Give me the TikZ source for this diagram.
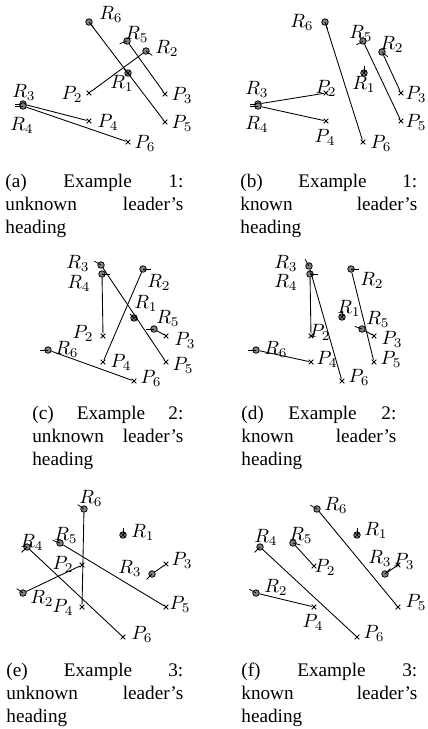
\documentclass[tikz,border=0pt]{standalone}
\usepackage[no-math]{fontspec}
\setmainfont{Liberation Serif}
\usepackage{tikz}
\usetikzlibrary{shapes.misc}
\definecolor{robotgray}{HTML}{808080}
\tikzset{
  robot/.style={circle,draw,fill=robotgray,inner sep=0pt,minimum size=3.4pt,line width=0.4pt},
  leader/.style={robot,path picture={\draw[line width=0.3pt] (path picture bounding box.north west)--(path picture bounding box.south east) (path picture bounding box.north east)--(path picture bounding box.south west);}},
  target/.style={cross out,draw,inner sep=0pt,minimum size=2pt,line width=0.4pt},
  lbl/.style={inner sep=0pt},
  traj/.style={line width=0.45pt},
  hdg/.style={line width=0.4pt},
  capt/.style={anchor=north west,inner sep=0pt,align=left,font=\normalsize}
}

\begin{document}
\begin{tikzpicture}[x=0.52pt,y=-0.52pt]
\useasboundingbox (0,0) rectangle (428,729);
% (a) example 1, unknown heading
\node[robot] (aR6) at (89,22) {}; \draw[hdg] (aR6.center)--++(-50:4pt); \node[lbl] (aR6l) at (111,14) {$R_6$};
\node[robot] (aR5) at (127,41) {}; \draw[hdg] (aR5.center)--++(200:4pt); \node[lbl] (aR5l) at (137,34) {$R_5$};
\node[robot] (aR2) at (146,51) {}; \draw[hdg] (aR2.center)--++(-35:4pt); \node[lbl] (aR2l) at (167,48) {$R_2$};
\node[leader] (aR1) at (128,73) {}; \draw[hdg] (aR1.center)--++(135:3pt); \node[lbl] (aR1l) at (122,83) {$R_1$};
\node[robot] (aR3) at (23,104) {}; \draw[hdg] (aR3.center)--++(180:4pt); \node[lbl] (aR3l) at (24,92) {$R_3$};
\node[robot] (aR4) at (23,106) {}; \draw[hdg] (aR4.center)--++(180:4pt); \node[lbl] (aR4l) at (22,125) {$R_4$};
\node[target] (aP2) at (89,93) {}; \node[lbl] (aP2l) at (72,94) {$P_2$};
\node[target] (aP3) at (165,94) {}; \node[lbl] (aP3l) at (182,95) {$P_3$};
\node[target] (aP4) at (89,121) {}; \node[lbl] (aP4l) at (108,122) {$P_4$};
\node[target] (aP5) at (165,122) {}; \node[lbl] (aP5l) at (182,123) {$P_5$};
\node[target] (aP6) at (128,142) {}; \node[lbl] (aP6l) at (145,143) {$P_6$};
\draw[traj] (aR6)--(aP5); \draw[traj] (aR5)--(aP3); \draw[traj] (aR2)--(aP2);
\draw[traj] (aR3)--(aP4); \draw[traj] (aR4)--(aP6);
\node[capt,text width=92.6pt] (capa) at (5,173.5) {(a)\hfill Example\hfill 1:\\unknown\hfill leader's\\heading};
% (b) example 1, known heading
\node[robot] (bR6) at (325,22) {}; \draw[hdg] (bR6.center)--++(-70:4pt); \node[lbl] (bR6l) at (302,22) {$R_6$};
\node[robot] (bR5) at (363,41) {}; \draw[hdg] (bR5.center)--++(210:4pt); \node[lbl] (bR5l) at (361,33) {$R_5$};
\node[robot] (bR2) at (382,52) {}; \draw[hdg] (bR2.center)--++(-40:4pt); \node[lbl] (bR2l) at (392,44) {$R_2$};
\node[leader] (bR1) at (364,73) {}; \draw[hdg] (bR1.center)--++(90:3.5pt); \node[lbl] (bR1l) at (364,84) {$R_1$};
\node[robot] (bR3) at (258,104) {}; \draw[hdg] (bR3.center)--++(180:4pt); \node[lbl] (bR3l) at (257,89) {$R_3$};
\node[robot] (bR4) at (258,106) {}; \draw[hdg] (bR4.center)--++(180:4pt); \node[lbl] (bR4l) at (257,124) {$R_4$};
\node[target] (bP2) at (326,93) {}; \node[lbl] (bP2l) at (326,88) {$P_2$};
\node[target] (bP3) at (401,93) {}; \node[lbl] (bP3l) at (416,94) {$P_3$};
\node[target] (bP4) at (326,121) {}; \node[lbl] (bP4l) at (325,137) {$P_4$};
\node[target] (bP5) at (401,121) {}; \node[lbl] (bP5l) at (416,122) {$P_5$};
\node[target] (bP6) at (363,142) {}; \node[lbl] (bP6l) at (381,143) {$P_6$};
\draw[traj] (bR6)--(bP6); \draw[traj] (bR5)--(bP5); \draw[traj] (bR2)--(bP3);
\draw[traj] (bR3)--(bP2); \draw[traj] (bR4)--(bP4);
\node[capt,text width=92pt] (capb) at (240,173.5) {(b)\hfill Example\hfill 1:\\known\hfill leader's\\heading};
% (c) example 2, unknown heading
\node[robot] (cR3) at (101,265) {}; \draw[hdg] (cR3.center)--++(150:4pt); \node[lbl] (cR3l) at (78,263) {$R_3$};
\node[robot] (cR4) at (102,274) {}; \draw[hdg] (cR4.center)--++(0:4pt); \node[lbl] (cR4l) at (79,283) {$R_4$};
\node[robot] (cR2) at (143,269) {}; \draw[hdg] (cR2.center)--++(0:4pt); \node[lbl] (cR2l) at (159,282) {$R_2$};
\node[leader] (cR1) at (134,318) {}; \draw[hdg] (cR1.center)--++(135:3pt); \node[lbl] (cR1l) at (146,303) {$R_1$};
\node[robot] (cR5) at (154,329) {}; \draw[hdg] (cR5.center)--++(180:4pt); \node[lbl] (cR5l) at (168,318) {$R_5$};
\node[robot] (cR6) at (48,350) {}; \draw[hdg] (cR6.center)--++(180:4pt); \node[lbl] (cR6l) at (67,349) {$R_6$};
\node[target] (cP2) at (103,336) {}; \node[lbl] (cP2l) at (83,333) {$P_2$};
\node[target] (cP3) at (166,336) {}; \node[lbl] (cP3l) at (185,340) {$P_3$};
\node[target] (cP4) at (103,362) {}; \node[lbl] (cP4l) at (121,362) {$P_4$};
\node[target] (cP5) at (166,362) {}; \node[lbl] (cP5l) at (183,365) {$P_5$};
\node[target] (cP6) at (134,381) {}; \node[lbl] (cP6l) at (151,378) {$P_6$};
\draw[traj] (cR3)--(cP5); \draw[traj] (cR4)--(cP2); \draw[traj] (cR2)--(cP4);
\draw[traj] (cR5)--(cP3); \draw[traj] (cR6)--(cP6);
\node[capt,text width=78.5pt] (capc) at (32,405.5) {(c)\hfill Example\hfill 2:\\unknown\hfill leader's\\heading};
% (d) example 2, known heading
\node[robot] (dR3) at (309,266) {}; \draw[hdg] (dR3.center)--++(120:4pt); \node[lbl] (dR3l) at (286,263) {$R_3$};
\node[robot] (dR4) at (310,274) {}; \draw[hdg] (dR4.center)--++(0:4pt); \node[lbl] (dR4l) at (286,282) {$R_4$};
\node[robot] (dR2) at (351,269) {}; \draw[hdg] (dR2.center)--++(0:4pt); \node[lbl] (dR2l) at (372,280) {$R_2$};
\node[leader] (dR1) at (342,317) {}; \draw[hdg] (dR1.center)--++(90:3pt); \node[lbl] (dR1l) at (349,308) {$R_1$};
\node[robot] (dR5) at (362,329) {}; \draw[hdg] (dR5.center)--++(160:4pt); \node[lbl] (dR5l) at (378,319) {$R_5$};
\node[robot] (dR6) at (256,350) {}; \draw[hdg] (dR6.center)--++(180:4pt); \node[lbl] (dR6l) at (276,349) {$R_6$};
\node[target] (dP2) at (311,336) {}; \node[lbl] (dP2l) at (320,332) {$P_2$};
\node[target] (dP3) at (374,336) {}; \node[lbl] (dP3l) at (392,339) {$P_3$};
\node[target] (dP4) at (311,362) {}; \node[lbl] (dP4l) at (327,359) {$P_4$};
\node[target] (dP5) at (374,362) {}; \node[lbl] (dP5l) at (391,359) {$P_5$};
\node[target] (dP6) at (342,381) {}; \node[lbl] (dP6l) at (359,377) {$P_6$};
\draw[traj] (dR3)--(dP6); \draw[traj] (dR4)--(dP2); \draw[traj] (dR2)--(dP5);
\draw[traj] (dR5)--(dP3); \draw[traj] (dR6)--(dP4);
\node[capt,text width=80.6pt] (capd) at (241,405.5) {(d)\hfill Example\hfill 2:\\known\hfill leader's\\heading};
% (e) example 3, unknown heading
\node[robot] (eR6) at (84,509) {}; \draw[hdg] (eR6.center)--++(145:4pt); \node[lbl] (eR6l) at (91,498) {$R_6$};
\node[leader] (eR1) at (123,535) {}; \draw[hdg] (eR1.center)--++(90:3.5pt); \node[lbl] (eR1l) at (143,532) {$R_1$};
\node[robot] (eR4) at (27,547) {}; \draw[hdg] (eR4.center)--++(225:4pt); \node[lbl] (eR4l) at (32,542) {$R_4$};
\node[robot] (eR5) at (60,543) {}; \draw[hdg] (eR5.center)--++(160:4pt); \node[lbl] (eR5l) at (66,535) {$R_5$};
\node[robot] (eR3) at (152,574) {}; \draw[hdg] (eR3.center)--++(225:4pt); \node[lbl] (eR3l) at (130,568) {$R_3$};
\node[robot] (eR2) at (23,593) {}; \draw[hdg] (eR2.center)--++(145:4pt); \node[lbl] (eR2l) at (42,598) {$R_2$};
\node[target] (eP2) at (82,565) {}; \node[lbl] (eP2l) at (63,564) {$P_2$};
\node[target] (eP3) at (166,564) {}; \node[lbl] (eP3l) at (182,560) {$P_3$};
\node[target] (eP4) at (82,607) {}; \node[lbl] (eP4l) at (63,607) {$P_4$};
\node[target] (eP5) at (166,607) {}; \node[lbl] (eP5l) at (180,604) {$P_5$};
\node[target] (eP6) at (123,637) {}; \node[lbl] (eP6l) at (142,634) {$P_6$};
\draw[traj] (eR6)--(eP4); \draw[traj] (eR2)--(eP2); \draw[traj] (eR4)--(eP6);
\draw[traj] (eR5)--(eP5); \draw[traj] (eR3)--(eP3);
\node[capt,text width=92pt] (cape) at (6,662.5) {(e)\hfill Example\hfill 3:\\unknown\hfill leader's\\heading};
% (f) example 3, known heading
\node[robot] (fR6) at (317,509) {}; \draw[hdg] (fR6.center)--++(150:4pt); \node[lbl] (fR6l) at (336,505) {$R_6$};
\node[leader] (fR1) at (357,535) {}; \draw[hdg] (fR1.center)--++(90:3.5pt); \node[lbl] (fR1l) at (376,530) {$R_1$};
\node[robot] (fR3) at (385,574) {}; \draw[hdg] (fR3.center)--++(45:4pt); \node[lbl] (fR3l) at (380,558) {$R_3$};
\node[robot] (fR4) at (260,547) {}; \draw[hdg] (fR4.center)--++(225:4pt); \node[lbl] (fR4l) at (266,537) {$R_4$};
\node[robot] (fR5) at (293,543) {}; \draw[hdg] (fR5.center)--++(-15:4pt); \node[lbl] (fR5l) at (301,535) {$R_5$};
\node[robot] (fR2) at (256,593) {}; \draw[hdg] (fR2.center)--++(150:4pt); \node[lbl] (fR2l) at (276,587) {$R_2$};
\node[target] (fP2) at (314,566) {}; \node[lbl] (fP2l) at (325,567) {$P_2$};
\node[target] (fP3) at (398,565) {}; \node[lbl] (fP3l) at (404,561) {$P_3$};
\node[target] (fP4) at (314,607) {}; \node[lbl] (fP4l) at (313,622) {$P_4$};
\node[target] (fP5) at (398,607) {}; \node[lbl] (fP5l) at (416,602) {$P_5$};
\node[target] (fP6) at (357,637) {}; \node[lbl] (fP6l) at (374,633) {$P_6$};
\draw[traj] (fR6)--(fP5); \draw[traj] (fR3)--(fP3); \draw[traj] (fR4)--(fP6);
\draw[traj] (fR5)--(fP2); \draw[traj] (fR2)--(fP4);
\node[capt,text width=91.5pt] (capf) at (241,662.5) {(f)\hfill Example\hfill 3:\\known\hfill leader's\\heading};
\end{tikzpicture}
\end{document}
